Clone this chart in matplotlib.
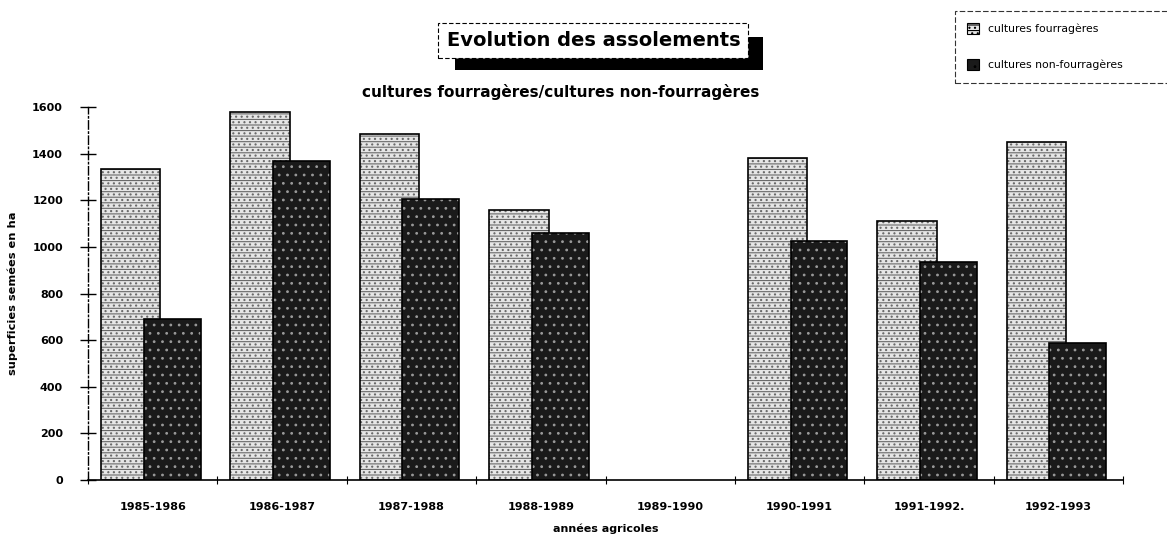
import numpy as np
import matplotlib
matplotlib.use("Agg")
import matplotlib.pyplot as plt
from matplotlib.patches import Rectangle

categories = ["1985-1986", "1986-1987", "1987-1988", "1988-1989", "1989-1990",
              "1990-1991", "1991-1992.", "1992-1993"]
fourrageres = [1335, 1578, 1485, 1160, np.nan, 1382, 1112, 1451]
non_fourrageres = [692, 1370, 1205, 1060, np.nan, 1026, 936, 588]
yticks = [0, 200, 400, 600, 800, 1000, 1200, 1400, 1600]

plt.rcParams['font.family'] = ['DejaVu Sans']
plt.rcParams['hatch.linewidth'] = 0.8

W, H = 1167, 536
fig = plt.figure(figsize=(W / 100, H / 100), dpi=100)
ax = fig.add_axes([88 / W, 1 - 480 / H, (1123 - 88) / W, (480 - 107) / H])

x = np.arange(len(categories))
# light series
ax.bar(x + 0.33, fourrageres, width=0.46, color='#e6e6e6', edgecolor='#6a6a6a',
       hatch='---...', linewidth=0, zorder=2)
ax.bar(x + 0.33, fourrageres, width=0.46, fill=False, edgecolor='black',
       linewidth=1.2, zorder=3)
# dark series
ax.bar(x + 0.65, non_fourrageres, width=0.44, color='#1a1a1a', edgecolor='#9a9a9a',
       hatch='..', linewidth=0, zorder=4)
ax.bar(x + 0.65, non_fourrageres, width=0.44, fill=False, edgecolor='black',
       linewidth=1.2, zorder=5)

ax.set_xlim(0, len(categories))
ax.set_ylim(0, 1600)
ax.set_yticks(yticks)
ax.set_yticklabels([str(v) for v in yticks], fontsize=8, fontweight='bold')
ax.set_xticks(np.arange(len(categories) + 1))
ax.set_xticklabels([])
ax.set_xticks(x + 0.5, minor=True)
ax.set_xticklabels(categories, minor=True, fontsize=8, fontweight='bold')
ax.tick_params(axis='x', which='minor', length=0, pad=16)
ax.tick_params(axis='x', which='major', direction='inout', length=6, width=0.8)
ax.tick_params(axis='y', direction='inout', length=12, width=1, pad=12)

for s in ['top', 'right']:
    ax.spines[s].set_visible(False)
ax.spines['left'].set_linestyle((0, (6, 2, 1, 2)))
ax.spines['left'].set_linewidth(1)
ax.spines['bottom'].set_linewidth(1.2)

ax.set_ylabel("superficies semées en ha", fontsize=8.2, fontweight='bold')
ax.yaxis.set_label_coords(-0.068, 0.5)
ax.set_xlabel("années agricoles", fontsize=8, fontweight='bold', labelpad=8)

# subtitle
fig.text(561 / W, 1 - 92 / H, "cultures fourragères/cultures non-fourragères",
         fontsize=11, fontweight='bold', ha='center', va='center')

# title box with shadow
fig.patches.append(Rectangle((455 / W, 1 - 70 / H), (763 - 455) / W, (70 - 37) / H,
                             transform=fig.transFigure, facecolor='black',
                             edgecolor='none', zorder=1))
fig.patches.append(Rectangle((438 / W, 1 - 58 / H), (748 - 438) / W, (58 - 23) / H,
                             transform=fig.transFigure, facecolor='white',
                             edgecolor='black', linestyle=(0, (4, 2)),
                             linewidth=0.8, zorder=2))
fig.text(594 / W, 1 - 41 / H, "Evolution des assolements", fontsize=14,
         fontweight='bold', ha='center', va='center', zorder=3)

# legend
h1 = Rectangle((0, 0), 1, 1, facecolor='#e6e6e6', edgecolor='black', hatch='---...', linewidth=0.8)
h2 = Rectangle((0, 0), 1, 1, facecolor='#1a1a1a', edgecolor='black', hatch='..', linewidth=0.8)
leg = fig.legend([h1, h2], ["cultures fourragères", "cultures non-fourragères"],
                 loc='upper left', bbox_to_anchor=(955 / W, 1 - 11 / H, (1200 - 955) / W, 0),
                 mode='expand',
                 fontsize=7.8, frameon=True, fancybox=False, handlelength=1.1,
                 handleheight=1.1, labelspacing=2.3, borderpad=1.15,
                 handletextpad=0.8, borderaxespad=0)
fr = leg.get_frame()
fr.set_edgecolor('black')
fr.set_linestyle((0, (5, 2)))
fr.set_linewidth(0.8)

fig.savefig("out.png", dpi=100)
